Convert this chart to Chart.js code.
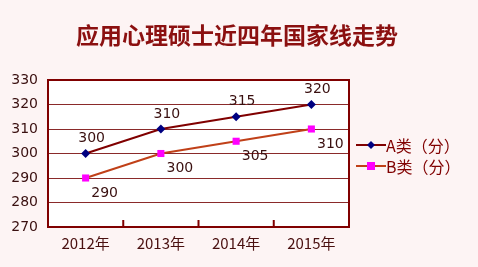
<!DOCTYPE html>
<html>
<head>
<meta charset="utf-8">
<script src="https://cdn.jsdelivr.net/npm/chart.js@4"></script>
<style>
  html, body { margin: 0; padding: 0; background: #fdf4f4; }
  #wrap { width: 478px; height: 267px; }
</style>
</head>
<body>
<div id="wrap"><canvas id="myChart" width="478" height="267"></canvas></div>
<script>
const jahre = ["2012年", "2013年", "2014年", "2015年"];
const werteA = [300, 310, 315, 320];
const werteB = [290, 300, 305, 310];
const yTicks = [270, 280, 290, 300, 310, 320, 330];
const titel = "应用心理硕士近四年国家线走势";
const namen = ["A类（分）", "B类（分）"];

const dunkelrot = "#800000";
const cjk = "'Noto Sans CJK SC', 'DejaVu Sans', sans-serif";

// Titel, Beschriftungen, Legende und innere Ticks selbst zeichnen
const extras = {
  id: "extras",
  beforeDraw(chart) {
    const c = chart.ctx, a = chart.chartArea;
    c.save();
    c.fillStyle = "#fdf4f4";
    c.fillRect(0, 0, chart.width, chart.height);
    c.fillStyle = "#ffffff";
    c.fillRect(a.left, a.top, a.right - a.left, a.bottom - a.top);
    c.restore();
  },
  afterDatasetsDraw(chart) {
    const c = chart.ctx, a = chart.chartArea;
    const x = chart.scales.x;
    c.save();
    // Rahmen
    c.strokeStyle = dunkelrot;
    c.lineWidth = 2;
    c.strokeRect(a.left, a.top, a.right - a.left, a.bottom - a.top);
    // Ticks nach innen
    c.lineWidth = 2;
    for (let i = 1; i < jahre.length; i++) {
      const px = (x.getPixelForValue(i - 1) + x.getPixelForValue(i)) / 2;
      c.beginPath();
      c.moveTo(px, a.bottom);
      c.lineTo(px, a.bottom - 7);
      c.stroke();
    }
    // Titel
    c.fillStyle = "#8b1010";
    c.font = "bold 23px " + cjk;
    c.textAlign = "center";
    c.textBaseline = "middle";
    c.fillText(titel, 237, 35);
    // Werte
    c.font = "14px 'DejaVu Sans', sans-serif";
    c.fillStyle = "#3a1010";
    const mA = chart.getDatasetMeta(0).data;
    const mB = chart.getDatasetMeta(1).data;
    mA.forEach((p, i) => {
      c.fillText(String(werteA[i]), p.x + 6, p.y - 15);
    });
    mB.forEach((p, i) => {
      c.fillText(String(werteB[i]), p.x + 19, p.y + 15);
    });
    // Legende
    const farben = [[dunkelrot, "#000080"], ["#c04018", "#ff00ff"]];
    c.font = "16px " + cjk;
    c.textAlign = "left";
    for (let k = 0; k < 2; k++) {
      const ly = 145 + k * 21;
      c.strokeStyle = farben[k][0];
      c.lineWidth = 2;
      c.beginPath();
      c.moveTo(356, ly);
      c.lineTo(386, ly);
      c.stroke();
      c.fillStyle = farben[k][1];
      if (k === 0) {
        c.beginPath();
        c.moveTo(371, ly - 4); c.lineTo(375, ly); c.lineTo(371, ly + 4); c.lineTo(367, ly);
        c.closePath(); c.fill();
      } else {
        c.fillRect(367, ly - 4, 8, 8);
      }
      c.fillStyle = dunkelrot;
      c.fillText(namen[k], 386, ly + 1);
    }
    c.restore();
  }
};

const ctx = document.getElementById("myChart");
new Chart(ctx, {
  type: "line",
  data: {
    labels: jahre,
    datasets: [{
      label: namen[0],
      data: werteA,
      borderColor: dunkelrot,
      borderWidth: 2,
      pointStyle: "rectRot",
      pointRadius: 4.5,
      pointBackgroundColor: "#000080",
      pointBorderColor: "#000080",
      pointBorderWidth: 0
    }, {
      label: namen[1],
      data: werteB,
      borderColor: "#c04018",
      borderWidth: 2,
      pointStyle: "rect",
      pointRadius: 5,
      pointBackgroundColor: "#ff00ff",
      pointBorderColor: "#ff00ff",
      pointBorderWidth: 0
    }]
  },
  plugins: [extras],
  options: {
    responsive: false,
    animation: false,
    layout: { padding: { top: 80, right: 129, left: 0, bottom: 0 } },
    plugins: { legend: { display: false }, title: { display: false }, tooltip: { enabled: false } },
    scales: {
      x: {
        offset: true,
        grid: { display: false, drawTicks: false },
        border: { display: false },
        ticks: { color: "#4a1010", font: { family: cjk, size: 15 }, padding: 7 },
        afterFit(s) { s.height = 40; }
      },
      y: {
        min: 270,
        max: 330,
        afterBuildTicks(s) { s.ticks = yTicks.map(v => ({ value: v })); },
        grid: { color: "#8a2a2a", lineWidth: 1, drawTicks: false },
        border: { display: false },
        ticks: { color: "#3a1010", font: { family: "'DejaVu Sans', sans-serif", size: 14 }, padding: 10 },
        afterFit(s) { s.width = 48; }
      }
    }
  }
});
</script>
</body>
</html>
